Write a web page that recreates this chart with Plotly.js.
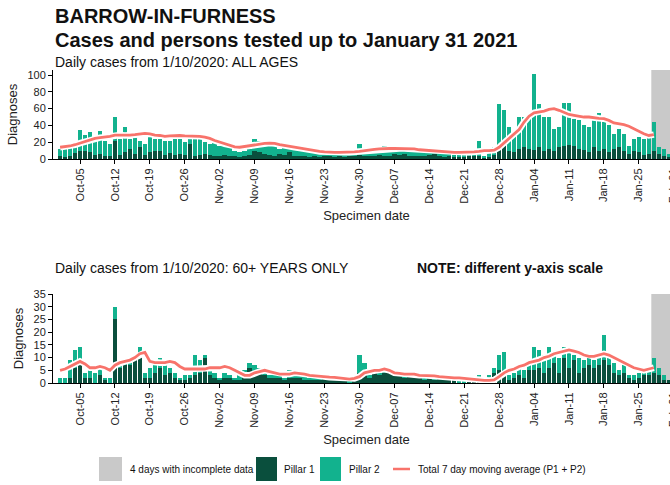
<!DOCTYPE html>
<html>
<head>
<meta charset="utf-8">
<script src="https://cdn.plot.ly/plotly-3.0.1.min.js"></script>
<style>
html,body{margin:0;padding:0;overflow:hidden;background:#fff;width:670px;height:485px;}
#chart{width:690px;height:485px;}
</style>
</head>
<body>
<div id="chart"></div>
<script>
// ---- DATA ----
const startDate = '2020-10-01';
const numDays = 123; // 1 Oct 2020 .. 31 Jan 2021

// ALL AGES
const allPillar1 = [3,2,4,7,10,9,8,5,6,4,3,22,5,8,12,6,14,5,8,9,10,5,7,5,6,5,18,4,5,6,5,
  4,3,5,4,3,2,3,5,10,8,6,5,4,6,5,8,4,3,4,2,3,2,3,4,2,3,2,3,3,5,
  4,3,4,5,3,4,6,5,6,4,3,4,3,5,6,3,2,3,2,2,2,3,3,4,1,2,5,18,17,10,8,
  12,14,12,11,14,10,12,10,14,15,17,16,12,11,8,14,10,12,8,12,14,10,6,10,8,5,6,10,6,4,2];
const allPillar2 = [9,11,10,11,25,19,24,21,27,18,15,28,19,30,12,20,8,13,18,15,14,17,15,21,19,15,6,20,19,14,13,
  18,13,13,10,7,6,7,7,14,14,11,13,12,6,9,10,8,7,8,6,5,4,5,6,4,5,3,3,4,13,
  8,7,7,7,13,6,6,9,9,8,8,6,5,4,4,5,4,4,3,4,3,3,5,17,3,6,9,48,41,28,20,
  38,36,40,90,51,40,38,26,24,52,50,32,34,29,30,32,45,32,32,18,22,20,10,14,18,19,22,34,8,8,4];
const allAvg = [14,14.5,15.5,17,19,21,23,24.5,25.5,26,27,28.5,28.5,28,28.5,29,30,30.5,30,28.5,28,27,27.5,28,28,27.5,27.5,27.5,27,26,24.5,
  22,20,18,16,14.5,14,15,16,17,18,18.5,19,18.5,17,16,15,14,13,11.5,10.5,10,9,8.5,8,8,8,8,8,8.5,9,
  10,10.5,11.5,12,12.5,12.5,12.5,12.5,12.5,12,12,11,10.5,10,9.5,9,8.5,8.5,8,8,8,8,8.5,9,10,10,10.5,14,19,25,30,
  35,44,51,55,56,57,59,60,58,55,53,52,51,50,50,49,48.5,48,46,43,42,41,39,36,32,30,28,29,null,null,null];

// 60+ YEARS ONLY
const oldPillar1 = [0,0,2,6,8,2,2,0,3,1,0,25,6,7,7,9,12,2,2,4,6,3,4,2,1,1,2,3,4,10,3,
  2,1,2,2,1,1,3,6,4,4,3,2,2,2,1,2,2,2,1,1,1,1,2,1,2,1,1,0,1,4,
  4,2,4,3,4,5,4,3,2,3,3,2,1,2,1,2,1,1,1,0,0,1,1,1,0,2,4,5,3,1,2,
  3,2,5,5,6,4,6,8,4,10,6,9,4,6,7,6,7,9,7,4,3,4,2,1,2,3,3,4,3,1,1];
const oldPillar2 = [2,2,7,7,6,2,5,4,4,1,2,5,2,2,3,1,2,2,4,4,4,5,2,2,1,2,1,8,5,1,2,
  2,1,2,1,1,2,2,2,3,2,1,1,2,1,1,3,2,1,2,1,1,1,1,1,1,1,1,1,1,7,
  4,1,1,1,2,1,1,1,1,1,1,1,1,1,1,1,1,1,0,1,1,0,1,2,1,1,2,6,9,2,2,
  3,3,3,9,7,7,8,4,6,4,6,2,6,3,3,3,3,10,3,4,2,3,1,2,2,2,2,6,3,2,0];
const oldAvg = [5,5.5,6.5,7.5,8.5,7.5,6,6,6.5,6,5,7,8,8.5,9,10,11.5,12,8.5,8,8,8,8.5,8,6.5,5.5,5.5,5.5,5.5,5.5,6,
  6,6,6.5,6,5,4,3,3,4,4.5,5,4.5,4,3.5,3.5,3.5,4,3.8,3.5,3,2.8,2.5,2.5,2.3,2.2,2,1.8,1.5,1.8,2.5,
  4,4.5,5,5,5.5,5,4,3.8,3.5,3.5,3.5,3,3,2.8,2.8,2.5,2.3,2.2,2,2,1.8,1.5,1.2,1,1,1,1.2,2.5,4,5,5.5,
  6.5,7,8,8.5,9,10,10.5,11.5,12,12.5,13,12.5,12,11,10.5,10.5,11,11.5,11,10,9,8,7,6,5.5,5,5.5,6,null,null,null];

const tickDates = ['2020-10-05','2020-10-12','2020-10-19','2020-10-26','2020-11-02','2020-11-09','2020-11-16','2020-11-23','2020-11-30','2020-12-07','2020-12-14','2020-12-21','2020-12-28','2021-01-04','2021-01-11','2021-01-18','2021-01-25','2021-02-01'];
const tickLabels = ['Oct-05','Oct-12','Oct-19','Oct-26','Nov-02','Nov-09','Nov-16','Nov-23','Nov-30','Dec-07','Dec-14','Dec-21','Dec-28','Jan-04','Jan-11','Jan-18','Jan-25','Feb-01'];
const incompleteStart = '2021-01-27 12:00';
const incompleteEnd = '2021-01-31 12:00';

// ---- BUILD ----
const dates = [];
{
  const d0 = new Date(startDate + 'T00:00:00Z');
  for (let i = 0; i < numDays; i++) {
    const d = new Date(d0.getTime() + i * 86400000);
    dates.push(d.toISOString().slice(0, 10));
  }
}

const C_P1 = '#0a4f3d', C_P2 = '#12b28e', C_LINE = '#f8736b', C_GRAY = '#c9c9c9';
const W = 690, H = 485, ML = 53, MR = 10;
const PW = W - ML - MR;
const px = v => (v - ML) / PW;
const py = v => 1 - v / H;
const FONT = 'Liberation Sans, Arial, sans-serif';

function barsAndLine(p1, p2, avg, xa, ya) {
  return [
    {type:'bar', x:dates, y:p1, xaxis:xa, yaxis:ya, marker:{color:C_P1, line:{width:0}}, hoverinfo:'x+y'},
    {type:'bar', x:dates, y:p2, xaxis:xa, yaxis:ya, marker:{color:C_P2, line:{width:0}}, hoverinfo:'x+y'},
    {type:'scatter', mode:'lines', x:dates, y:avg, xaxis:xa, yaxis:ya, line:{color:'#ffffff', width:6.5}, hoverinfo:'skip'},
    {type:'scatter', mode:'lines', x:dates, y:avg, xaxis:xa, yaxis:ya, line:{color:C_LINE, width:2.8}}
  ];
}

const traces = [].concat(
  barsAndLine(allPillar1, allPillar2, allAvg, 'x', 'y'),
  barsAndLine(oldPillar1, oldPillar2, oldAvg, 'x2', 'y2')
);

const xRange = ['2020-09-29 14:00', '2021-02-02 06:00'];
function xaxis(anchor) {
  return {
    type:'date', range:xRange, domain:[0,1], anchor:anchor,
    tickmode:'array', tickvals:tickDates, ticktext:tickLabels, tickangle:-90,
    ticks:'outside', ticklen:4, tickcolor:'#000', showline:true, linecolor:'#000', linewidth:1,
    showgrid:false, zeroline:false, tickfont:{size:11, color:'#222', family:FONT},
    title:{text:'Specimen date', font:{size:13, color:'#222', family:FONT}, standoff:8}
  };
}
function yaxis(anchor, dom, rng, vals) {
  return {
    domain:dom, range:rng, anchor:anchor, tickmode:'array', tickvals:vals,
    ticks:'outside', ticklen:4, tickcolor:'#000', showline:true, linecolor:'#000', linewidth:1,
    showgrid:false, zeroline:false, tickfont:{size:11, color:'#222', family:FONT},
    title:{text:'Diagnoses', font:{size:13, color:'#222', family:FONT}, standoff:6}
  };
}

const shapes = [
  {type:'rect', xref:'x', yref:'y domain', x0:incompleteStart, x1:incompleteEnd, y0:0, y1:1, fillcolor:C_GRAY, line:{width:0}, layer:'below'},
  {type:'rect', xref:'x2', yref:'y2 domain', x0:incompleteStart, x1:incompleteEnd, y0:0, y1:1, fillcolor:C_GRAY, line:{width:0}, layer:'below'},
  // legend swatches
  {type:'rect', xref:'paper', yref:'paper', x0:px(99), x1:px(122), y0:py(481), y1:py(457), fillcolor:C_GRAY, line:{width:0}},
  {type:'rect', xref:'paper', yref:'paper', x0:px(256), x1:px(277), y0:py(481), y1:py(457), fillcolor:C_P1, line:{width:0}},
  {type:'rect', xref:'paper', yref:'paper', x0:px(320), x1:px(341), y0:py(481), y1:py(457), fillcolor:C_P2, line:{width:0}},
  {type:'line', xref:'paper', yref:'paper', x0:px(393), x1:px(410), y0:py(469), y1:py(469), line:{color:C_LINE, width:2.5}}
];

function ann(text, x, y, size, bold, extra) {
  return Object.assign({xref:'paper', yref:'paper', x:px(x), y:py(y), xanchor:'left', yanchor:'middle',
    showarrow:false, text: bold ? '<b>'+text+'</b>' : text, font:{size:size, color:'#111', family:FONT}}, extra||{});
}
const annotations = [
  ann('BARROW-IN-FURNESS', 53, 16, 20, true),
  ann('Cases and persons tested up to January 31 2021', 53, 40, 20, true),
  ann('Daily cases from 1/10/2020: ALL AGES', 53, 62, 14, false),
  ann('Daily cases from 1/10/2020: 60+ YEARS ONLY', 53, 268, 14, false),
  ann('NOTE: different y-axis scale', 415, 268, 14, true),
  ann('4 days with incomplete data', 128, 469, 10, false),
  ann('Pillar 1', 282, 469, 10, false),
  ann('Pillar 2', 347, 469, 10, false),
  ann('Total 7 day moving average (P1 + P2)', 416, 469, 10, false)
];

const layout = {
  width:W, height:H, margin:{l:ML, r:MR, t:0, b:0}, paper_bgcolor:'#fff', plot_bgcolor:'#fff',
  showlegend:false, barmode:'stack', bargap:0.1,
  font:{family:FONT, color:'#111'},
  xaxis:xaxis('y'), yaxis:yaxis('x', [py(159), py(70)], [0,106], [0,20,40,60,80,100]),
  xaxis2:xaxis('y2'), yaxis2:yaxis('x2', [py(383), py(294)], [0,35], [0,5,10,15,20,25,30,35]),
  shapes:shapes, annotations:annotations
};

Plotly.newPlot('chart', traces, layout, {displayModeBar:false, staticPlot:true});
</script>
</body>
</html>
